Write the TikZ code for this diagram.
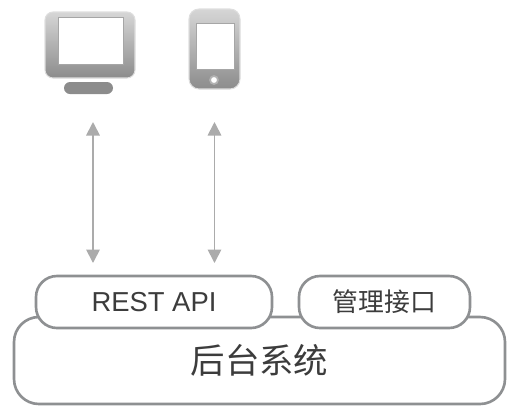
\documentclass[tikz,border=0pt]{standalone}
\usepackage{fontspec}
\setmainfont{Liberation Sans}
\newfontfamily\cjk{Noto Sans CJK SC}
\usepackage{xcolor}
\usetikzlibrary{arrows.meta, positioning, calc}
\definecolor{boxcolor}{HTML}{8E9092}
\definecolor{textcolor}{HTML}{3C3C3C}
\definecolor{arrowcolor}{HTML}{ABABAB}
\definecolor{iconlight}{HTML}{D6D6D6}
\definecolor{icondark}{HTML}{8C8C8C}

\begin{document}
\begin{tikzpicture}[
    module/.style={rectangle, rounded corners=0.42cm, draw=boxcolor, line width=1.5pt, fill=white, minimum height=1.04cm, text=textcolor},
    icon/.style={rectangle, rounded corners=#1, draw=iconlight!80!white, line width=0.6pt, top color=iconlight, bottom color=icondark},
    glass/.style={rectangle, fill=white, draw=gray!70, line width=0.4pt},
    arrow/.style={{Triangle[length=2.7mm,width=2.7mm]}-{Triangle[length=2.7mm,width=2.7mm]}, arrowcolor, line width=1pt}
]
\useasboundingbox (0,0) rectangle (10.3,8.3);

% Backend with its two interfaces
\node[module, rounded corners=0.5cm, minimum width=9.82cm, minimum height=1.74cm, font=\cjk\fontsize{19.6}{22}\selectfont] (backend) at (5.19,1.09) {后台系统};
\node[module, minimum width=4.72cm, font=\fontsize{15.6}{18}\selectfont] (rest) at (3.08,2.26) {REST API};
\node[module, minimum width=3.42cm, font=\cjk\fontsize{14.7}{17}\selectfont] (admin) at (7.69,2.26) {管理接口};

% Monitor icon
\node[rectangle, rounded corners=0.12cm, fill=icondark, minimum width=0.98cm, minimum height=0.24cm] (stand) at (1.77,6.54) {};
\node[icon=0.16cm, minimum width=1.8cm, minimum height=1.32cm] (monitor) at (1.8,7.4) {};
\node[glass, minimum width=1.3cm, minimum height=0.94cm] (monitorscreen) at (1.81,7.49) {};

% Phone icon
\node[icon=0.2cm, minimum width=1.02cm, minimum height=1.6cm] (phone) at (4.29,7.32) {};
\node[glass, minimum width=0.76cm, minimum height=0.92cm] (phonescreen) at (4.3,7.38) {};
\node[circle, fill=white, draw=gray!60, line width=1pt, inner sep=0pt, minimum size=0.16cm] (homebutton) at (4.28,6.7) {};

% Arrow ends
\coordinate (monitorend) at (1.86,5.86);
\coordinate (phoneend) at (4.29,5.86);
\coordinate (restleft) at (1.86,3.04);
\coordinate (restright) at (4.29,3.04);

% Connections
\draw[arrow] (monitorend) -- (restleft);
\draw[arrow] (phoneend) -- (restright);
\end{tikzpicture}
\end{document}
